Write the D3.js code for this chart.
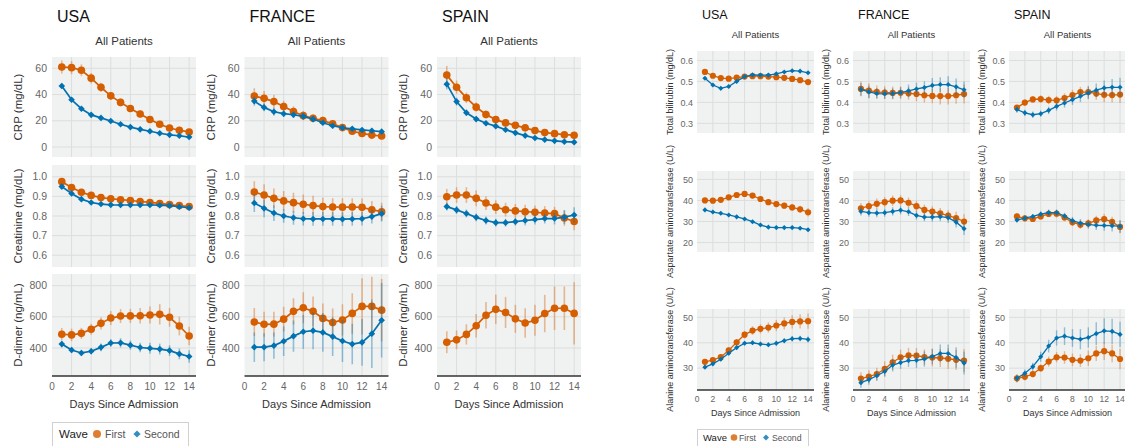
<!DOCTYPE html>
<html>
<head>
<meta charset="utf-8">
<script src="https://cdn.jsdelivr.net/npm/d3@7"></script>
<style>
  body { margin: 0; background: #fff; }
  svg { font-family: "Liberation Sans", Arial, Helvetica, sans-serif; }
</style>
</head>
<body>
<svg id="chart" width="1125" height="446"></svg>
<script>
// ---- data ----
const days = [1, 2, 3, 4, 5, 6, 7, 8, 9, 10, 11, 12, 13, 14];
const xTicks = [0, 2, 4, 6, 8, 10, 12, 14];
const countries = ["USA", "FRANCE", "SPAIN"];
const waves = ["First", "Second"];

// left block: CRP, creatinine, D-dimer
const usa_crp_1 = [61, 60.5, 58.5, 52.5, 45.5, 39, 34, 29.3, 25.2, 21, 17.4, 14.5, 12.8, 11.5];
const usa_crp_2 = [46.5, 36, 29.2, 24.5, 22.2, 19.8, 17.4, 15.2, 13.5, 12, 10.5, 9.3, 8.6, 7.6];
const fra_crp_1 = [38.8, 37.1, 34.6, 30.8, 27, 23.9, 21.9, 20.1, 17.7, 14.8, 12, 10.4, 9.1, 8.4];
const fra_crp_2 = [35, 30.2, 26.9, 25.4, 24.6, 23.4, 21.3, 18.5, 16.2, 14.7, 13.9, 13, 12.4, 11.7];
const spa_crp_1 = [54.8, 45.6, 37.5, 30.4, 24.8, 20.9, 18.4, 16.5, 14.6, 12.5, 11, 10.2, 9.4, 9];
const spa_crp_2 = [47.9, 34.6, 26.1, 21.3, 18.1, 15.9, 13.2, 10.8, 8.7, 6.9, 5.6, 4.7, 4.1, 3.7];
const usa_crp_1_se = [5, 5, 4.5, 4, 3.5, 3, 3, 2.5, 2.5, 2.5, 2, 2, 2, 2];
const usa_crp_2_se = [2, 1.5, 1.2, 1, 1, 1, 1, 1, 0.8, 0.8, 0.8, 0.7, 0.7, 0.7];
const fra_crp_1_se = [6, 5.5, 5, 4.5, 4, 3.5, 3, 3, 2.5, 2, 2, 2, 2, 2];
const fra_crp_2_se = [3.5, 3, 3, 2.5, 2.5, 2.5, 2, 2, 2, 1.5, 1.5, 1.5, 1.5, 1.5];
const spa_crp_1_se = [7, 5, 4, 3.5, 3, 2.5, 2.5, 2, 2, 2, 2, 2, 2, 2];
const spa_crp_2_se = [4, 3, 2.5, 2, 1.5, 1.5, 1.5, 1.2, 1.2, 1, 1, 1, 1, 1];

const usa_cre_1 = [0.975, 0.945, 0.921, 0.905, 0.894, 0.888, 0.883, 0.879, 0.874, 0.869, 0.864, 0.858, 0.853, 0.848];
const usa_cre_2 = [0.95, 0.915, 0.886, 0.869, 0.861, 0.857, 0.856, 0.856, 0.856, 0.856, 0.855, 0.853, 0.847, 0.842];
const fra_cre_1 = [0.922, 0.907, 0.89, 0.877, 0.868, 0.86, 0.853, 0.848, 0.846, 0.845, 0.846, 0.844, 0.832, 0.822];
const fra_cre_2 = [0.866, 0.839, 0.815, 0.8, 0.791, 0.786, 0.785, 0.785, 0.785, 0.784, 0.785, 0.786, 0.797, 0.812];
const spa_cre_1 = [0.898, 0.907, 0.907, 0.89, 0.866, 0.845, 0.832, 0.826, 0.822, 0.819, 0.815, 0.812, 0.79, 0.772];
const spa_cre_2 = [0.848, 0.831, 0.813, 0.793, 0.777, 0.766, 0.766, 0.771, 0.777, 0.782, 0.787, 0.787, 0.794, 0.805];
const usa_cre_1_se = [0.012, 0.012, 0.011, 0.011, 0.011, 0.011, 0.011, 0.011, 0.011, 0.011, 0.011, 0.011, 0.012, 0.012];
const usa_cre_2_se = [0.01, 0.01, 0.009, 0.009, 0.009, 0.009, 0.009, 0.009, 0.009, 0.009, 0.009, 0.009, 0.01, 0.01];
const fra_cre_1_se = [0.055, 0.055, 0.05, 0.05, 0.05, 0.05, 0.05, 0.045, 0.045, 0.045, 0.045, 0.045, 0.045, 0.045];
const fra_cre_2_se = [0.045, 0.045, 0.04, 0.035, 0.035, 0.035, 0.035, 0.035, 0.035, 0.035, 0.035, 0.035, 0.035, 0.04];
const spa_cre_1_se = [0.04, 0.04, 0.04, 0.04, 0.035, 0.035, 0.035, 0.035, 0.035, 0.035, 0.035, 0.035, 0.04, 0.045];
const spa_cre_2_se = [0.02, 0.02, 0.02, 0.02, 0.02, 0.02, 0.02, 0.02, 0.025, 0.025, 0.025, 0.03, 0.035, 0.04];

const usa_ddi_1 = [488, 484, 494, 520, 558, 592, 605, 606, 607, 612, 616, 597, 541, 477];
const usa_ddi_2 = [425, 387, 368, 379, 404, 432, 433, 418, 403, 398, 393, 383, 362, 345];
const fra_ddi_1 = [567, 552, 553, 585, 635, 658, 635, 590, 563, 580, 622, 667, 667, 643];
const fra_ddi_2 = [405, 405, 415, 443, 476, 504, 511, 500, 473, 445, 425, 436, 492, 578];
const spa_ddi_1 = [437, 452, 487, 543, 610, 648, 628, 587, 560, 578, 621, 655, 655, 622];
const usa_ddi_1_se = [40, 40, 35, 35, 40, 45, 45, 45, 50, 55, 65, 60, 60, 60];
const usa_ddi_2_se = [20, 20, 20, 20, 25, 25, 30, 30, 30, 35, 35, 35, 35, 40];
const fra_ddi_1_se = [90, 80, 80, 80, 85, 100, 95, 95, 90, 100, 130, 180, 190, 200];
const fra_ddi_2_se = [95, 90, 85, 95, 100, 110, 120, 125, 125, 135, 130, 150, 220, 240];
const spa_ddi_1_se = [70, 60, 65, 75, 85, 95, 100, 90, 95, 100, 120, 140, 140, 200];

// right block: bilirubin, AST, ALT
const usa_bil_1 = [0.545, 0.527, 0.516, 0.513, 0.518, 0.523, 0.525, 0.525, 0.523, 0.52, 0.517, 0.512, 0.506, 0.497];
const usa_bil_2 = [0.515, 0.483, 0.467, 0.476, 0.5, 0.523, 0.531, 0.53, 0.53, 0.536, 0.545, 0.551, 0.549, 0.541];
const fra_bil_1 = [0.464, 0.456, 0.45, 0.447, 0.445, 0.446, 0.443, 0.44, 0.434, 0.431, 0.43, 0.43, 0.434, 0.44];
const fra_bil_2 = [0.462, 0.45, 0.442, 0.441, 0.442, 0.447, 0.455, 0.464, 0.471, 0.481, 0.485, 0.485, 0.474, 0.46];
const spa_bil_1 = [0.375, 0.399, 0.414, 0.416, 0.411, 0.41, 0.421, 0.435, 0.449, 0.449, 0.442, 0.436, 0.435, 0.437];
const spa_bil_2 = [0.366, 0.35, 0.341, 0.346, 0.362, 0.381, 0.397, 0.413, 0.429, 0.445, 0.458, 0.469, 0.472, 0.472];
const usa_bil_1_se = [0.007, 0.006, 0.006, 0.006, 0.006, 0.006, 0.006, 0.006, 0.006, 0.006, 0.006, 0.007, 0.007, 0.008];
const usa_bil_2_se = [0.006, 0.005, 0.005, 0.005, 0.005, 0.005, 0.005, 0.005, 0.005, 0.005, 0.005, 0.006, 0.006, 0.006];
const fra_bil_1_se = [0.035, 0.035, 0.03, 0.03, 0.03, 0.03, 0.03, 0.035, 0.035, 0.035, 0.04, 0.04, 0.04, 0.045];
const fra_bil_2_se = [0.03, 0.03, 0.025, 0.025, 0.025, 0.025, 0.03, 0.03, 0.03, 0.035, 0.035, 0.04, 0.04, 0.04];
const spa_bil_1_se = [0.012, 0.015, 0.015, 0.018, 0.02, 0.02, 0.022, 0.025, 0.025, 0.03, 0.03, 0.035, 0.035, 0.04];
const spa_bil_2_se = [0.015, 0.015, 0.015, 0.015, 0.018, 0.02, 0.022, 0.025, 0.028, 0.03, 0.032, 0.035, 0.04, 0.045];

const usa_ast_1 = [40, 39.9, 40.3, 41.5, 42.6, 43.1, 42.3, 40.7, 39.2, 38.3, 37.5, 36.7, 35.8, 34.4];
const usa_ast_2 = [35.5, 34.5, 33.9, 33.1, 32.2, 31.2, 29.9, 28.3, 27.3, 27.1, 27.1, 27.1, 26.8, 26.1];
const fra_ast_1 = [36.3, 37.3, 38.4, 39.2, 39.9, 40, 38.9, 37.3, 35.5, 34.7, 33.9, 32.8, 31.6, 30];
const fra_ast_2 = [34.8, 34.2, 34, 34.2, 34.8, 35.4, 34.6, 32.9, 32.1, 32.1, 32.3, 31.8, 29.7, 26.6];
const spa_ast_1 = [32.4, 31.5, 31.2, 32.4, 33.6, 33.7, 31.9, 29.6, 28.5, 29.1, 30.5, 31.1, 29.8, 27.4];
const spa_ast_2 = [30.7, 31.6, 32.4, 33.5, 34.2, 34.2, 32.6, 30.4, 29.2, 28.6, 28.2, 28.1, 28, 27.7];
const usa_ast_1_se = [1, 1, 1, 1, 1, 1, 1.2, 1.2, 1.3, 1.3, 1.4, 1.5, 1.7, 2];
const usa_ast_2_se = [0.6, 0.6, 0.6, 0.6, 0.6, 0.6, 0.6, 0.6, 0.6, 0.6, 0.7, 0.7, 0.7, 0.8];
const fra_ast_1_se = [2.5, 2.5, 2.5, 2.5, 2.5, 2.5, 2.5, 2.5, 2.5, 2.5, 2.5, 2.5, 3, 3.5];
const fra_ast_2_se = [2, 2, 2, 2, 2, 2, 2, 2, 2, 2.2, 2.2, 2.5, 2.5, 3];
const spa_ast_1_se = [1.5, 1.5, 1.5, 1.5, 1.5, 1.8, 1.8, 1.8, 2, 2, 2.2, 2.5, 2.5, 3];
const spa_ast_2_se = [1.2, 1.2, 1.2, 1.2, 1.5, 1.5, 1.5, 1.8, 2, 2, 2.2, 2.5, 2.8, 3];

const usa_alt_1 = [32.5, 33.2, 34.4, 37, 40.2, 43.2, 44.8, 45.5, 46, 46.8, 47.6, 48.2, 48.4, 48.5];
const usa_alt_2 = [30.4, 31.7, 33.5, 35.9, 38.1, 39.8, 40, 39.5, 39.2, 39.8, 40.8, 41.6, 41.7, 41.3];
const fra_alt_1 = [25.9, 26.7, 27.7, 29.7, 32.3, 34.3, 35, 34.9, 34.4, 34.2, 34, 33.7, 33.3, 33];
const fra_alt_2 = [24.3, 25.5, 27, 28.7, 31.2, 32.2, 33, 33.1, 33.6, 34.6, 35.8, 35.8, 34.2, 32];
const spa_alt_1 = [26, 26.6, 27.7, 30, 32.6, 34.3, 34.2, 33.3, 33, 33.9, 35.8, 36.7, 35.8, 33.6];
const spa_alt_2 = [26, 28, 30.6, 34.5, 38.7, 41.9, 42.6, 41.9, 41.4, 42.1, 43.6, 44.7, 44.5, 43.3];
const usa_alt_1_se = [1, 1, 1, 1.2, 1.3, 1.5, 1.7, 1.8, 2, 2.2, 2.4, 2.6, 2.8, 3];
const usa_alt_2_se = [0.7, 0.7, 0.7, 0.8, 0.8, 0.8, 0.9, 0.9, 0.9, 1, 1, 1.1, 1.1, 1.2];
const fra_alt_1_se = [2.5, 2.5, 2.5, 3, 3, 3, 3, 3, 3, 3.5, 3.5, 4, 4, 4.5];
const fra_alt_2_se = [2, 2, 2, 2, 2.5, 2.5, 2.5, 3, 3, 3, 3.5, 3.5, 4, 4.5];
const spa_alt_1_se = [1.5, 1.5, 1.5, 1.5, 2, 2, 2.5, 2.5, 2.5, 3, 3, 3.5, 3.5, 4];
const spa_alt_2_se = [1.5, 1.5, 1.5, 2, 2.5, 3, 3.5, 3.5, 4, 4, 4.5, 5, 5, 5];

// ---- layout ----
const COLORS = {First: "#d55e00", Second: "#0072b2"};
const BG = "#f0f1f1";
const GRID = "#dcdede";

const svg = d3.select("#chart");

const LEFT = {
  xs: [52, 244.5, 437], w: 144,
  rows: [[57, 100], [165, 102], [274, 102]],
  xDomain: [0, 14.7],
  sty: {tick: 10.5, title: 11.5, r: 3.8, dia: 22, lw: 1.7, eb: 1.6, labOff: 34, tickOff: 5,
        head: 16, headY: 22, sub: 11.5, subY: 45, xtY: 390, xtSize: 10, xTitleY: 408, xTitleSize: 11},
  legend: {x: 52, y: 422, w: 136, wave: 11.5, item: 10.5, r: 4, dia: 26,
           pos: [59, 97, 105, 137, 144], cy: 434}
};
const RIGHT = {
  xs: [697, 853, 1009], w: 117,
  rows: [[51, 82], [171, 81], [309, 81]],
  xDomain: [0, 14.75],
  sty: {tick: 9, title: 9, r: 3.1, dia: 13, lw: 1.3, eb: 1.4, labOff: 27, tickOff: 4,
        head: 12.5, headY: 19, sub: 9.5, subY: 37.5, xtY: 402, xtSize: 8.5, xTitleY: 416, xTitleSize: 9},
  legend: {x: 697, y: 429, w: 111, wave: 9.5, item: 8.7, r: 3.3, dia: 18,
           pos: [703, 734, 739, 766, 772], cy: 437.5}
};

const leftRows = [
  {label: "CRP (mg/dL)", domain: [-7.6, 68.6], ticks: [0, 20, 40, 60], fmt: d3.format("d"),
   data: [[usa_crp_1, usa_crp_1_se, usa_crp_2, usa_crp_2_se], [fra_crp_1, fra_crp_1_se, fra_crp_2, fra_crp_2_se], [spa_crp_1, spa_crp_1_se, spa_crp_2, spa_crp_2_se]]},
  {label: "Creatinine (mg/dL)", domain: [0.54, 1.06], ticks: [0.6, 0.7, 0.8, 0.9, 1.0], fmt: d3.format(".1f"),
   data: [[usa_cre_1, usa_cre_1_se, usa_cre_2, usa_cre_2_se], [fra_cre_1, fra_cre_1_se, fra_cre_2, fra_cre_2_se], [spa_cre_1, spa_cre_1_se, spa_cre_2, spa_cre_2_se]]},
  {label: "D-dimer (ng/mL)", domain: [220, 875], ticks: [400, 600, 800], fmt: d3.format("d"),
   data: [[usa_ddi_1, usa_ddi_1_se, usa_ddi_2, usa_ddi_2_se], [fra_ddi_1, fra_ddi_1_se, fra_ddi_2, fra_ddi_2_se], [spa_ddi_1, spa_ddi_1_se, null, null]]}
];
const rightRows = [
  {label: "Total bilirubin (mg/dL)", domain: [0.254, 0.645], ticks: [0.3, 0.4, 0.5, 0.6], fmt: d3.format(".1f"),
   data: [[usa_bil_1, usa_bil_1_se, usa_bil_2, usa_bil_2_se], [fra_bil_1, fra_bil_1_se, fra_bil_2, fra_bil_2_se], [spa_bil_1, spa_bil_1_se, spa_bil_2, spa_bil_2_se]]},
  {label: "Aspartate aminotransferase (U/L)", domain: [15.5, 54], ticks: [20, 30, 40, 50], fmt: d3.format("d"),
   data: [[usa_ast_1, usa_ast_1_se, usa_ast_2, usa_ast_2_se], [fra_ast_1, fra_ast_1_se, fra_ast_2, fra_ast_2_se], [spa_ast_1, spa_ast_1_se, spa_ast_2, spa_ast_2_se]]},
  {label: "Alanine aminotransferase (U/L)", domain: [21.4, 53.3], ticks: [30, 40, 50], fmt: d3.format("d"),
   data: [[usa_alt_1, usa_alt_1_se, usa_alt_2, usa_alt_2_se], [fra_alt_1, fra_alt_1_se, fra_alt_2, fra_alt_2_se], [spa_alt_1, spa_alt_1_se, spa_alt_2, spa_alt_2_se]]}
];

let clipId = 0;

function drawPanel(block, ci, ri, row) {
  const s = block.sty;
  const x0 = block.xs[ci], w = block.w;
  const [y0, h] = block.rows[ri];
  const last = ri === block.rows.length - 1;
  const X = d3.scaleLinear().domain(block.xDomain).range([x0, x0 + w]);
  const Y = d3.scaleLinear().domain(row.domain).range([y0 + h, y0]);

  const g = svg.append("g");
  g.append("rect").attr("x", x0).attr("y", y0).attr("width", w).attr("height", h).attr("fill", BG);

  // grid
  g.selectAll(".gx").data(xTicks.filter(t => t > 0)).enter().append("line")
    .attr("x1", d => X(d)).attr("x2", d => X(d)).attr("y1", y0).attr("y2", y0 + h)
    .attr("stroke", GRID).attr("stroke-width", 1);
  g.selectAll(".gy").data(row.ticks).enter().append("line")
    .attr("x1", x0).attr("x2", x0 + w).attr("y1", d => Y(d)).attr("y2", d => Y(d))
    .attr("stroke", GRID).attr("stroke-width", 1);

  // y tick labels
  g.selectAll(".ty").data(row.ticks).enter().append("text")
    .attr("x", x0 - s.tickOff).attr("y", d => Y(d)).attr("dy", "0.35em")
    .attr("text-anchor", "end").attr("font-size", s.tick).attr("fill", "#666")
    .text(row.fmt);

  // y title
  g.append("text")
    .attr("transform", `translate(${x0 - s.labOff},${y0 + h / 2}) rotate(-90)`)
    .attr("text-anchor", "middle").attr("dy", "0.35em")
    .attr("font-size", s.title).attr("fill", "#333").text(row.label);

  // series: error bars, line, markers (second wave drawn on top)
  const id = "clip" + (clipId++);
  svg.append("clipPath").attr("id", id).append("rect")
    .attr("x", x0).attr("y", y0).attr("width", w).attr("height", h);
  const plot = g.append("g").attr("clip-path", `url(#${id})`);
  const [v1, e1, v2, e2] = row.data[ci];
  const series = [[v1, e1, "First"], [v2, e2, "Second"]].filter(d => d[0]);
  series.forEach(([vals, se, wave]) => {
    const col = COLORS[wave];
    const pts = days.map((d, i) => ({d: d, v: vals[i], e: se[i]}));
    plot.selectAll(null).data(pts).enter().append("line")
      .attr("x1", p => X(p.d)).attr("x2", p => X(p.d))
      .attr("y1", p => Y(p.v - p.e)).attr("y2", p => Y(p.v + p.e))
      .attr("stroke", col).attr("stroke-opacity", 0.4).attr("stroke-width", s.eb);
    plot.append("path").datum(pts)
      .attr("d", d3.line().x(p => X(p.d)).y(p => Y(p.v)))
      .attr("fill", "none").attr("stroke", col).attr("stroke-width", s.lw);
    if (wave === "First") {
      plot.selectAll(null).data(pts).enter().append("circle")
        .attr("cx", p => X(p.d)).attr("cy", p => Y(p.v)).attr("r", s.r).attr("fill", col);
    } else {
      // square turned 45 degrees
      plot.selectAll(null).data(pts).enter().append("path")
        .attr("transform", p => `translate(${X(p.d)},${Y(p.v)}) rotate(45)`)
        .attr("d", d3.symbol(d3.symbolSquare, s.dia)).attr("fill", col);
    }
  });

  if (last) {
    g.append("line").attr("x1", x0).attr("x2", x0 + w).attr("y1", y0 + h).attr("y2", y0 + h)
      .attr("stroke", "#333").attr("stroke-width", 1.5);
    g.selectAll(".tx").data(xTicks).enter().append("text")
      .attr("x", d => X(d)).attr("y", s.xtY).attr("text-anchor", "middle")
      .attr("font-size", s.xtSize).attr("fill", "#666").text(d => d);
    g.append("text").attr("x", x0 + w / 2).attr("y", s.xTitleY).attr("text-anchor", "middle")
      .attr("font-size", s.xTitleSize).attr("fill", "#333").text("Days Since Admission");
  }
}

function drawBlock(block, rows) {
  const s = block.sty;
  countries.forEach((c, ci) => {
    const x0 = block.xs[ci];
    svg.append("text").attr("x", x0 + 5).attr("y", s.headY)
      .attr("font-size", s.head).attr("fill", "#111").text(c);
    svg.append("text").attr("x", x0 + block.w / 2).attr("y", s.subY).attr("text-anchor", "middle")
      .attr("font-size", s.sub).attr("fill", "#333").text("All Patients");
    rows.forEach((row, ri) => drawPanel(block, ci, ri, row));
  });

  // legend
  const L = block.legend;
  const lg = svg.append("g");
  lg.append("rect").attr("x", L.x + 0.5).attr("y", L.y + 0.5).attr("width", L.w).attr("height", 40)
    .attr("fill", "#fff").attr("stroke", "#d0d0d0");
  lg.append("text").attr("x", L.pos[0]).attr("y", L.cy).attr("dy", "0.35em")
    .attr("font-size", L.wave).attr("fill", "#222").text("Wave");
  lg.append("circle").attr("cx", L.pos[1]).attr("cy", L.cy).attr("r", L.r)
    .attr("fill", COLORS.First).attr("fill-opacity", 0.8);
  lg.append("text").attr("x", L.pos[2]).attr("y", L.cy).attr("dy", "0.35em")
    .attr("font-size", L.item).attr("fill", "#555").text(waves[0]);
  lg.append("path").attr("transform", `translate(${L.pos[3]},${L.cy}) rotate(45)`)
    .attr("d", d3.symbol(d3.symbolSquare, L.dia)).attr("fill", COLORS.Second).attr("fill-opacity", 0.8);
  lg.append("text").attr("x", L.pos[4]).attr("y", L.cy).attr("dy", "0.35em")
    .attr("font-size", L.item).attr("fill", "#555").text(waves[1]);
}

drawBlock(LEFT, leftRows);
drawBlock(RIGHT, rightRows);
</script>
</body>
</html>
